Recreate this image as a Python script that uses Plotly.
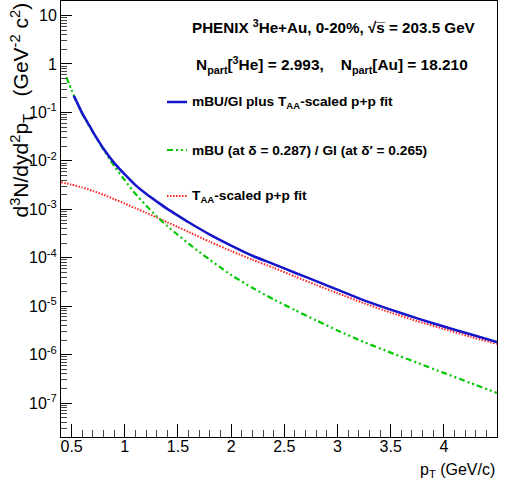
import plotly.graph_objects as go

# ---- data ----
pt_sum = [0.52, 0.55, 0.6, 0.65, 0.7, 0.75, 0.8, 0.9, 1.0, 1.1, 1.2, 1.3, 1.4, 1.5, 1.6, 1.8,
          2.0, 2.2, 2.4, 2.6, 2.8, 3.0, 3.25, 3.5, 3.75, 4.0, 4.25, 4.5]
y_sum = [0.219, 0.162, 0.0955, 0.0617, 0.0398, 0.0263, 0.0178, 9.1e-3, 5.25e-3, 3.16e-3, 2.09e-3,
         1.45e-3, 1.02e-3, 7.4e-4, 5.4e-4, 3.0e-4, 1.78e-4, 1.10e-4, 7.4e-5, 4.9e-5, 3.3e-5,
         2.19e-5, 1.32e-5, 8.5e-6, 5.6e-6, 3.8e-6, 2.63e-6, 1.82e-6]

pt_mbu = [0.45, 0.5, 0.55, 0.6, 0.65, 0.7, 0.75, 0.8, 0.9, 1.0, 1.1, 1.2, 1.3, 1.4, 1.5, 1.6, 1.7,
          1.8, 1.9, 2.0, 2.2, 2.4, 2.6, 2.8, 3.0, 3.25, 3.5, 3.75, 4.0, 4.25, 4.5]
y_mbu = [0.537, 0.288, 0.162, 0.0933, 0.0603, 0.0389, 0.0257, 0.0170, 7.9e-3, 3.98e-3, 2.09e-3,
         1.20e-3, 7.2e-4, 4.5e-4, 2.95e-4, 1.95e-4, 1.32e-4, 9.1e-5, 6.3e-5, 4.4e-5, 2.4e-5,
         1.38e-5, 8.3e-6, 5.1e-6, 3.16e-6, 1.82e-6, 1.10e-6, 6.8e-7, 4.2e-7, 2.6e-7, 1.62e-7]

pt_pp = [0.4, 0.5, 0.6, 0.7, 0.8, 0.9, 1.0, 1.1, 1.2, 1.3, 1.4, 1.5, 1.6, 1.8, 2.0, 2.2, 2.4,
         2.6, 2.8, 3.0, 3.25, 3.5, 3.75, 4.0, 4.25, 4.5]
y_pp = [3.63e-3, 3.24e-3, 2.82e-3, 2.40e-3, 2.00e-3, 1.62e-3, 1.32e-3, 1.05e-3, 8.5e-4, 6.8e-4,
        5.4e-4, 4.3e-4, 3.4e-4, 2.14e-4, 1.38e-4, 9.1e-5, 6.2e-5, 4.1e-5, 2.75e-5, 1.86e-5,
        1.15e-5, 7.4e-6, 4.9e-6, 3.4e-6, 2.34e-6, 1.66e-6]

x_tickvals = [0.5, 1, 1.5, 2, 2.5, 3, 3.5, 4, 4.5]
x_ticktext = ["0.5", "1", "1.5", "2", "2.5", "3", "3.5", "4", "4.5"]
y_tickvals = [1e-7, 1e-6, 1e-5, 1e-4, 1e-3, 1e-2, 1e-1, 1, 10]
y_ticktext = ["10<sup>-7</sup>", "10<sup>-6</sup>", "10<sup>-5</sup>", "10<sup>-4</sup>",
              "10<sup>-3</sup>", "10<sup>-2</sup>", "10<sup>-1</sup>", "1", "10"]

names = ["mBU/GI plus T<sub>AA</sub>-scaled p+p fit",
         "mBU (at δ = 0.287) / GI (at δ′ = 0.265)",
         "T<sub>AA</sub>-scaled p+p fit"]
header1 = "PHENIX <sup>3</sup>He+Au, 0-20%, √s\u0305 = 203.5 GeV"
header2 = "N<sub>part</sub>[<sup>3</sup>He] = 2.993,    N<sub>part</sub>[Au] = 18.210"

BLUE = "#1414c8"
GREEN = "#00c800"
RED = "#ff2020"
FONT = "Liberation Sans, Arial, sans-serif"

fig = go.Figure()
fig.add_trace(go.Scatter(x=pt_pp, y=y_pp, mode="lines", name=names[2],
                         line=dict(color=RED, width=2, dash="1.5px,1.5px", shape="spline", smoothing=0.6)))
fig.add_trace(go.Scatter(x=pt_mbu, y=y_mbu, mode="lines", name=names[1],
                         line=dict(color=GREEN, width=2.2, dash="6px,3px,2px,3px,2px,3px",
                                   shape="spline", smoothing=0.6)))
fig.add_trace(go.Scatter(x=pt_sum, y=y_sum, mode="lines", name=names[0],
                         line=dict(color=BLUE, width=2.5, shape="spline", smoothing=0.8)))

L, R, T, B = 61, 10, 1, 56
W, H = 507, 493
pw, ph = W - L - R, H - T - B


def px(x):
    return (x - L) / pw


def py(y):
    return (H - B - y) / ph


annotations = []
annotations.append(dict(text="<b>" + header1 + "</b>", x=px(190), y=py(27), xanchor="left", yanchor="middle",
                        font=dict(size=15.2)))
annotations.append(dict(text="<b>" + header2 + "</b>", x=px(194), y=py(65), xanchor="left", yanchor="middle",
                        font=dict(size=15.4)))
leg_y = [102, 150, 196]
leg_styles = [dict(color=BLUE, width=2.5), dict(color=GREEN, width=2.2, dash="6px,3px,2px,3px,2px,3px"),
              dict(color=RED, width=2, dash="1.5px,1.5px")]
shapes = []
for i in range(3):
    annotations.append(dict(text="<b>" + names[i] + "</b>", x=px(190), y=py(leg_y[i]),
                            xanchor="left", yanchor="middle", font=dict(size=13.7)))
    shapes.append(dict(type="line", xref="paper", yref="paper", x0=px(167), x1=px(187),
                       y0=py(leg_y[i]), y1=py(leg_y[i]), line=leg_styles[i]))
for a in annotations:
    a.update(xref="paper", yref="paper", showarrow=False)
    a["font"].update(family=FONT, color="black")

annotations.append(dict(text="p<sub>T</sub> (GeV/c)", xref="paper", yref="paper", x=1.0, y=py(470),
                        xanchor="right", yanchor="middle", showarrow=False,
                        font=dict(family=FONT, size=16, color="black")))
annotations.append(dict(text="d<sup>3</sup>N/dyd<sup>2</sup>p<sub>T</sub>   (GeV<sup>-2</sup> c<sup>2</sup>)",
                        xref="paper", yref="paper", x=px(21), y=py(1), xanchor="center", yanchor="top",
                        textangle=-90, showarrow=False,
                        font=dict(family=FONT, size=21, color="black")))

minor_y = [m * 10 ** e for e in range(-8, 2) for m in range(2, 10)]

fig.update_layout(
    width=W, height=H,
    margin=dict(l=L, r=R, t=T, b=B, autoexpand=False),
    paper_bgcolor="white", plot_bgcolor="white",
    showlegend=False,
    font=dict(family=FONT, size=16, color="black"),
    annotations=annotations,
    shapes=shapes,
    xaxis=dict(range=[0.4, 4.5], tickmode="array", tickvals=x_tickvals, ticktext=x_ticktext,
               ticks="inside", ticklen=13, tickwidth=1, tickcolor="black",
               minor=dict(ticks="inside", ticklen=7, dtick=0.1, tick0=0.5, tickcolor="#444"),
               showline=True, linecolor="black", linewidth=1, mirror=True, automargin=False,
               ticklabelstandoff=-5,
               showgrid=False, zeroline=False, tickfont=dict(size=16)),
    yaxis=dict(type="log", range=[-7.7, 1.3], tickmode="array", tickvals=y_tickvals, ticktext=y_ticktext,
               ticks="inside", ticklen=11, tickwidth=1, tickcolor="black",
               minor=dict(ticks="inside", ticklen=6, tickmode="array", tickvals=minor_y, tickcolor="#444"),
               showline=True, linecolor="black", linewidth=1, mirror=True, automargin=False,
               showgrid=False, zeroline=False, tickfont=dict(size=16)),
)

fig.write_html("out.html", config={"displayModeBar": False},
               post_script="document.body.style.margin='0';document.body.style.padding='0';")
